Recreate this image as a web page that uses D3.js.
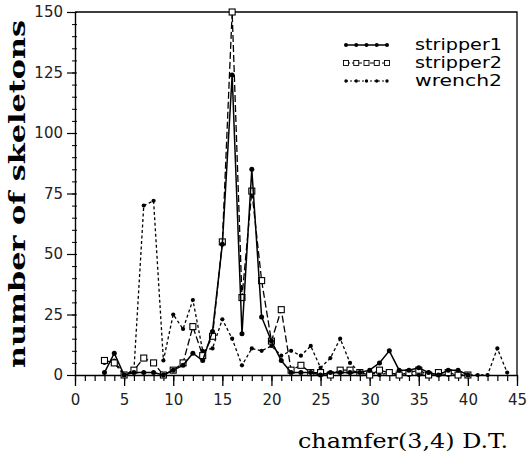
<!DOCTYPE html>
<html><head><meta charset="utf-8">
<script src="https://cdn.jsdelivr.net/npm/d3@7"></script>
<style>html,body{margin:0;padding:0;background:#fff;}svg{display:block;}</style>
</head><body>
<svg id="c" width="527" height="458"></svg>
<script>
const seriesNames = ["stripper1", "stripper2", "wrench2"];
const stripper1X = d3.range(3, 41);
const stripper1 = [1, 9, 0, 1, 1, 1, 0, 2, 4, 9, 6, 18, 54, 124, 17, 85, 24, 14, 6, 1, 1, 1, 0, 1, 1, 1, 1, 2, 5, 10, 2, 2, 3, 1, 0, 2, 2, 0];
const stripper2X = d3.range(3, 41);
const stripper2 = [6, 5, 0, 2, 7, 5, 0, 2, 5, 20, 8, 16, 55, 150, 32, 76, 39, 14, 27, 2, 4, 1, 1, 0, 2, 2, 1, 0, 2, 1, 0, 1, 2, 0, 1, 1, 0, 0];
const wrench2X = d3.range(3, 45);
const wrench2 = [5, 6, 0, 2, 70, 72, 6, 25, 19, 31, 10, 11, 23, 15, 4, 11, 10, 12, 8, 10, 8, 12, 3, 7, 15, 5, 1, 1, 0, 1, 0, 0, 0, 1, 0, 0, 0, 0, 0, 0, 11, 1];
const xMajorTicks = [0, 5, 10, 15, 20, 25, 30, 35, 40, 45];
const xMinorTicks = d3.range(0, 46);
const yMajorTicks = [0, 25, 50, 75, 100, 125, 150];
const yMinorTicks = d3.range(0, 151, 5);
const xTitle = "chamfer(3,4)  D.T.";
const yTitle = "number of skeletons";

const svg = d3.select("#c");
const x = d3.scaleLinear().domain([0, 45]).range([75, 517]);
const y = d3.scaleLinear().domain([0, 150]).range([375, 12]);
const tickFont = "'DejaVu Sans', sans-serif";

// frame top and right
svg.append("path").attr("d", `M${x(0)},${y(150)}H${x(45)}V${y(0)}`)
  .attr("fill", "none").attr("stroke", "#000").attr("stroke-width", 1.3);

// x axis minor
svg.append("g").attr("transform", `translate(0,${y(0)})`)
  .call(d3.axisBottom(x).tickValues(xMinorTicks).tickSize(6).tickSizeOuter(0).tickFormat(""))
  .call(g => g.selectAll("line").attr("stroke-width", 1.2));
// x axis major
const gx = svg.append("g").attr("transform", `translate(0,${y(0)})`)
  .call(d3.axisBottom(x).tickValues(xMajorTicks).tickSize(11).tickSizeOuter(0).tickPadding(8).tickFormat(d3.format("d")));
gx.selectAll("line").attr("stroke-width", 1.3);
gx.select(".domain").attr("stroke-width", 1.4);
gx.selectAll("text").attr("font-family", tickFont).attr("font-size", 15).attr("fill", "#222");

// y axis minor
svg.append("g").attr("transform", `translate(${x(0)},0)`)
  .call(d3.axisLeft(y).tickValues(yMinorTicks).tickSize(4).tickSizeOuter(0).tickFormat(""))
  .call(g => g.selectAll("line").attr("x2", -3).attr("x1", 2).attr("stroke-width", 1));
const gy = svg.append("g").attr("transform", `translate(${x(0)},0)`)
  .call(d3.axisLeft(y).tickValues(yMajorTicks).tickSize(8).tickSizeOuter(0).tickPadding(4).tickFormat(d3.format("d")));
gy.selectAll("line").attr("stroke-width", 1.2);
gy.select(".domain").attr("stroke-width", 1.4);
gy.selectAll("text").attr("font-family", tickFont).attr("font-size", 15).attr("fill", "#222");

// series
const mk = (xs, vs) => xs.map((d, i) => ({ x: d, v: vs[i] }));
const line = d3.line().x(d => x(d.x)).y(d => y(d.v));
const series = [
  { name: seriesNames[0], data: mk(stripper1X, stripper1), dash: null, width: 1.5, marker: "dot" },
  { name: seriesNames[1], data: mk(stripper2X, stripper2), dash: "7,3", width: 1.3, marker: "square" },
  { name: seriesNames[2], data: mk(wrench2X, wrench2), dash: "3,2.5", width: 1.3, marker: "small" }
];

function drawMarker(g, px, py, type) {
  if (type === "square") {
    g.append("rect").attr("x", px - 3).attr("y", py - 3).attr("width", 6).attr("height", 6)
      .attr("fill", "#fff").attr("stroke", "#000").attr("stroke-width", 1.1);
  } else if (type === "dot") {
    g.append("circle").attr("cx", px).attr("cy", py).attr("r", 2.5).attr("fill", "#000");
  } else {
    g.append("circle").attr("cx", px).attr("cy", py).attr("r", 2.1).attr("fill", "#000");
  }
}

[series[2], series[1], series[0]].forEach(s => {
  svg.append("path").datum(s.data).attr("d", line).attr("fill", "none")
    .attr("stroke", "#000").attr("stroke-width", s.width)
    .attr("stroke-dasharray", s.dash);
  const g = svg.append("g");
  s.data.forEach(d => drawMarker(g, x(d.x), y(d.v), s.marker));
});

// legend
const legX = d3.scaleLinear().domain([0, 4]).range([346, 387]);
series.forEach((s, i) => {
  const ly = 45 + i * 18;
  svg.append("line").attr("x1", legX(0)).attr("x2", legX(4)).attr("y1", ly).attr("y2", ly)
    .attr("stroke", "#000").attr("stroke-width", s.name === "stripper1" ? 1.4 : 1.1)
    .attr("stroke-dasharray", s.dash ? (s.marker === "square" ? "4,2" : "2,2") : null);
  const g = svg.append("g");
  d3.range(5).forEach(k => {
    if (s.marker === "square") {
      g.append("rect").attr("x", legX(k) - 2.5).attr("y", ly - 2.5).attr("width", 5).attr("height", 5)
        .attr("fill", "#fff").attr("stroke", "#000").attr("stroke-width", 0.9);
    } else {
      g.append("circle").attr("cx", legX(k)).attr("cy", ly).attr("r", s.marker === "dot" ? 2 : 1.7).attr("fill", "#000");
    }
  });
  svg.append("text").attr("x", 415).attr("y", ly + 5).text(s.name)
    .attr("font-family", tickFont).attr("font-size", 15).attr("fill", "#000")
    .attr("textLength", 87).attr("lengthAdjust", "spacingAndGlyphs");
});

// titles
svg.append("text").attr("x", 298).attr("y", 448).text(xTitle)
  .attr("font-family", "'DejaVu Serif', serif").attr("font-size", 21).attr("fill", "#000")
  .attr("textLength", 210).attr("lengthAdjust", "spacingAndGlyphs");
svg.append("text").attr("transform", "translate(25,368) rotate(-90)").text(yTitle)
  .attr("font-family", "'DejaVu Serif', serif").attr("font-size", 23).attr("font-weight", "bold").attr("fill", "#000")
  .attr("textLength", 348).attr("lengthAdjust", "spacingAndGlyphs");
</script>
</body></html>
